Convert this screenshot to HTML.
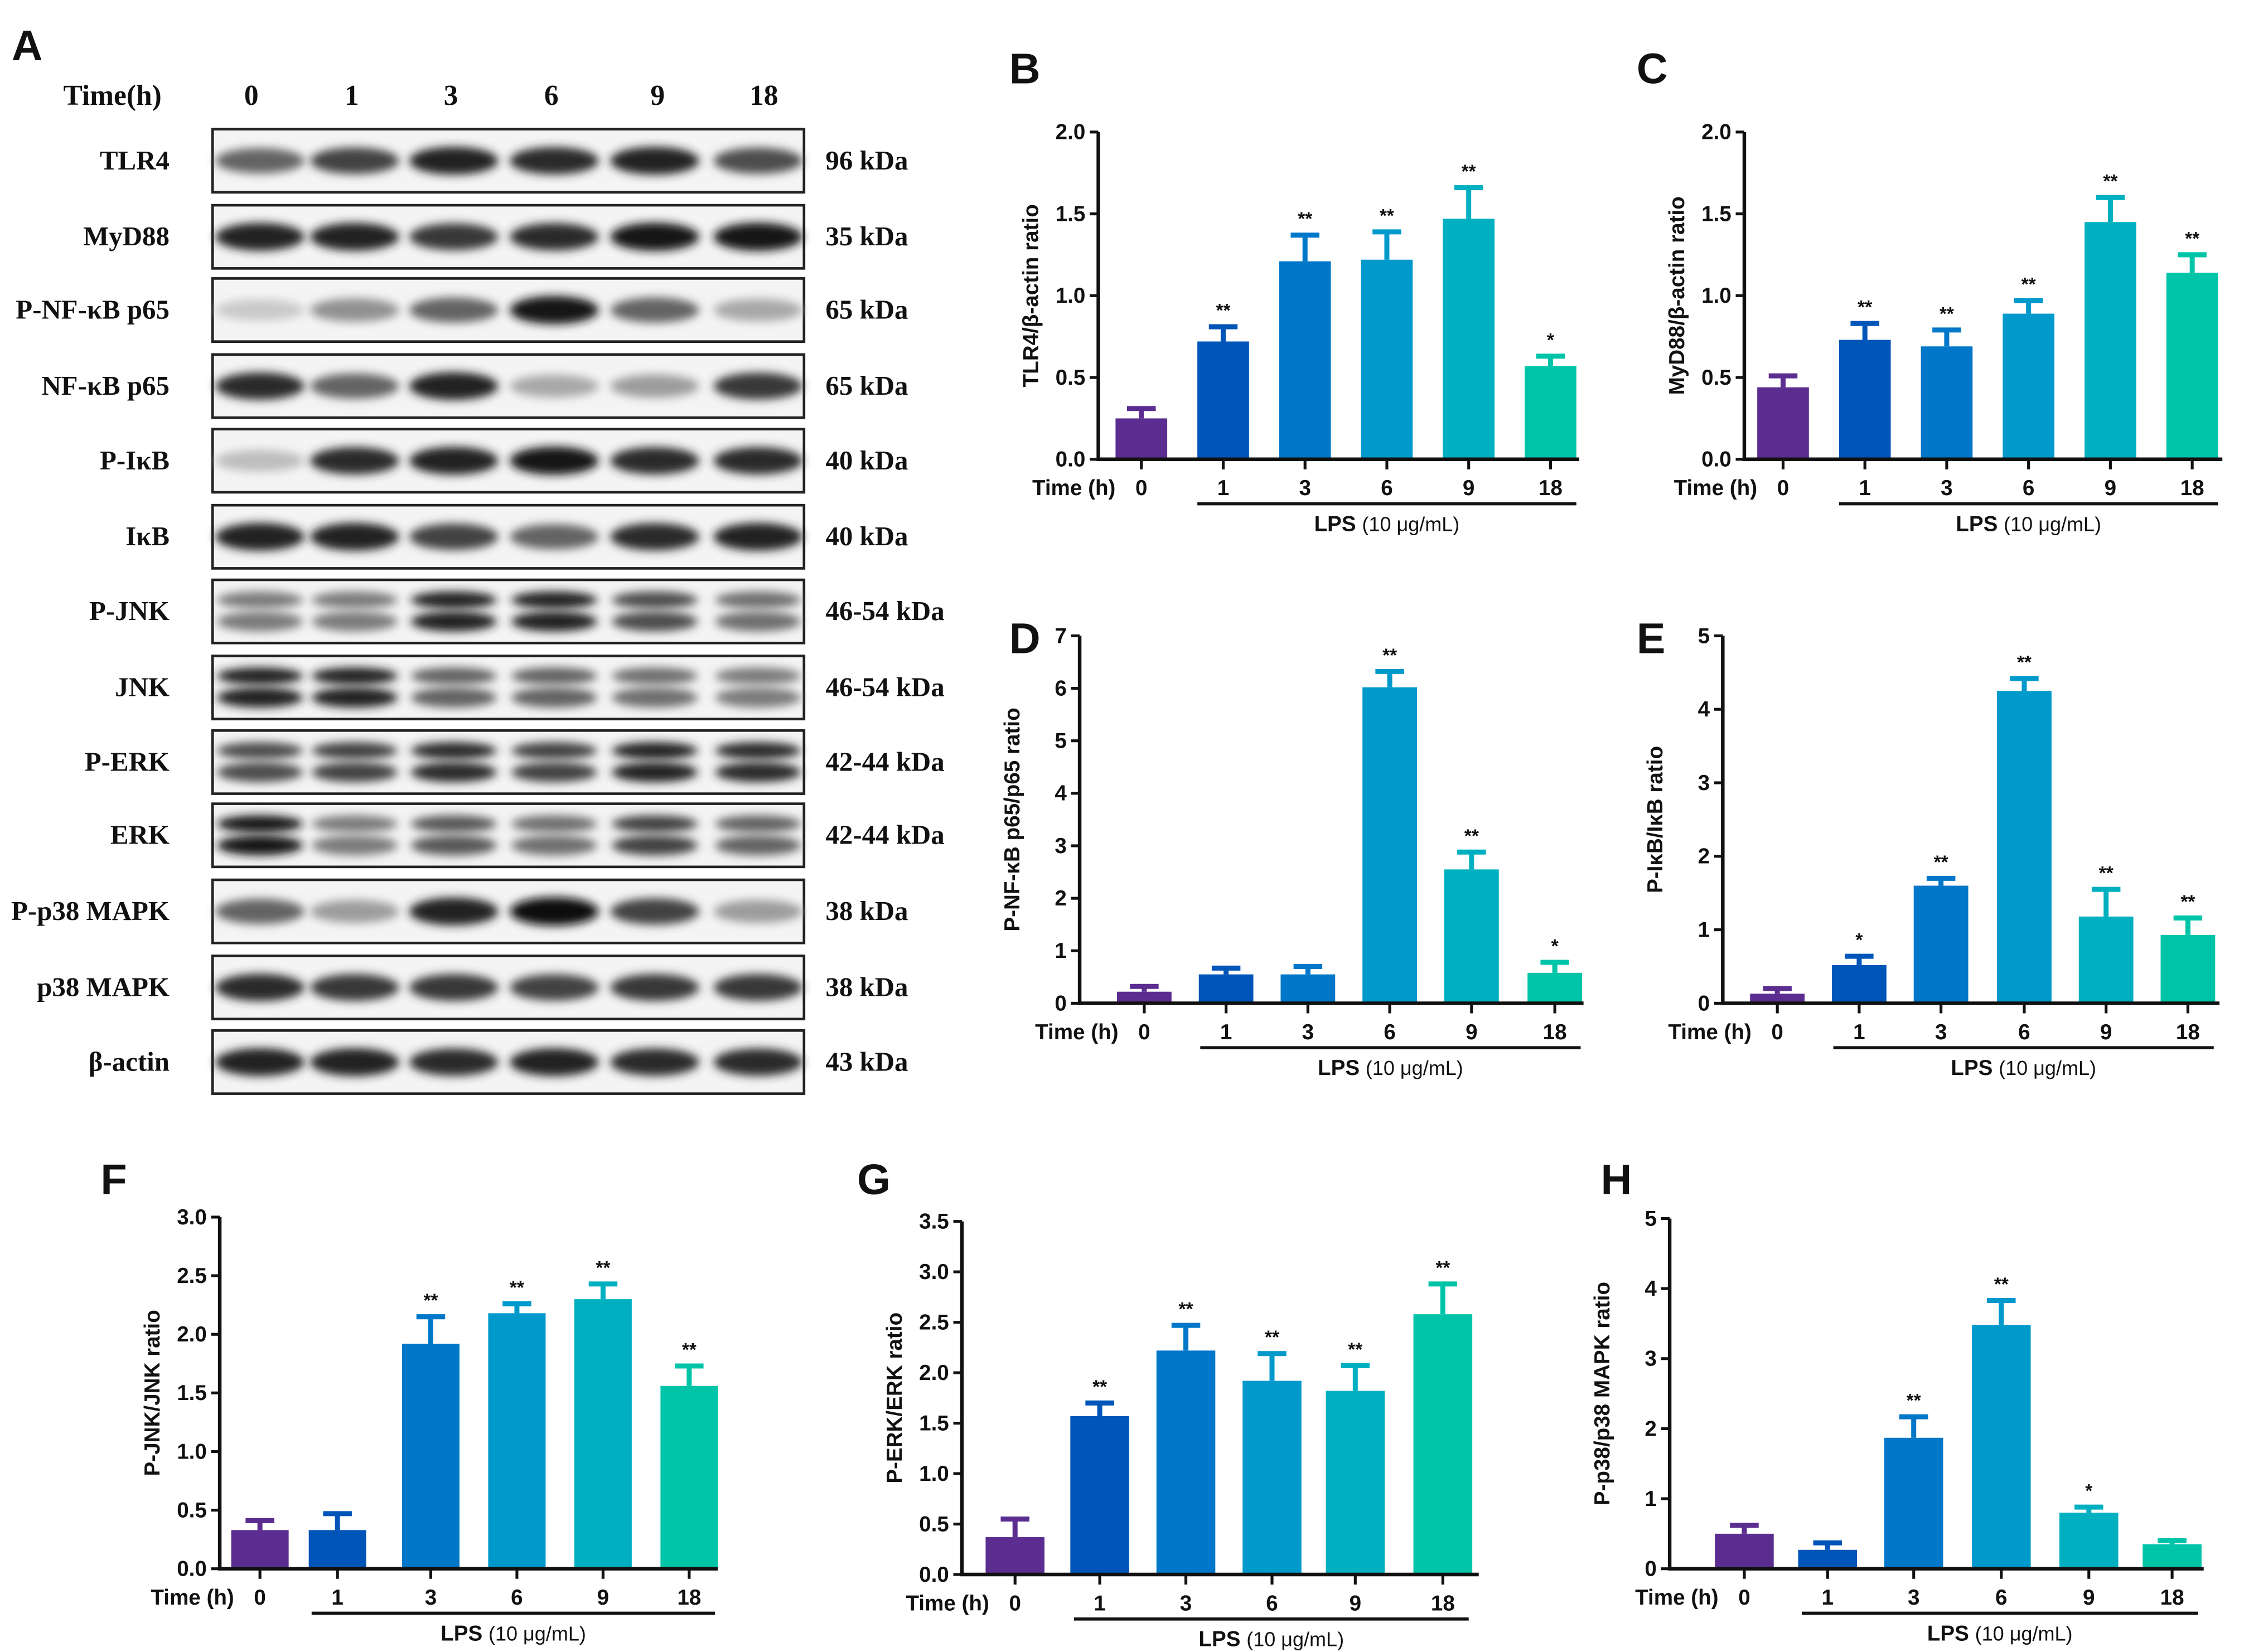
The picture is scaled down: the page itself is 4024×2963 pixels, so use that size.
<!DOCTYPE html>
<html><head><meta charset="utf-8"><style>
html,body{margin:0;padding:0;background:#fff;}
svg{display:block;}
.t{font-family:"Liberation Sans",Arial,sans-serif;font-weight:bold;fill:#111;}
.s{font-family:"Liberation Serif",serif;font-weight:bold;fill:#111;}
</style></head><body>
<svg id="fig" width="4024" height="2963" viewBox="0 0 1563 1151" xmlns="http://www.w3.org/2000/svg">
<defs><filter id="blur" x="-20%" y="-50%" width="140%" height="200%"><feGaussianBlur stdDeviation="3.2"/></filter>
<filter id="blur2" x="-20%" y="-50%" width="140%" height="200%"><feGaussianBlur stdDeviation="6"/></filter></defs>
<g id="blots"></g>
<g id="charts"></g>
</svg>
<script>
const NS="http://www.w3.org/2000/svg";
function mk(tag,attrs,parent,text){const e=document.createElementNS(NS,tag);for(const k in attrs)e.setAttribute(k,attrs[k]);if(text!==undefined)e.textContent=text;parent.appendChild(e);return e;}

// ---------- Blot panel data ----------
const laneLabels=["0","1","3","6","9","18"];
const proteins=["TLR4","MyD88","P-NF-κB p65","NF-κB p65","P-IκB","IκB","P-JNK","JNK","P-ERK","ERK","P-p38 MAPK","p38 MAPK","β-actin"];
const kdas=["96 kDa","35 kDa","65 kDa","65 kDa","40 kDa","40 kDa","46-54 kDa","46-54 kDa","42-44 kDa","42-44 kDa","38 kDa","38 kDa","43 kDa"];
const bandIntensity=[
 [0.6,0.75,0.9,0.85,0.9,0.7],
 [0.9,0.9,0.8,0.85,0.95,0.95],
 [0.15,0.4,0.6,0.95,0.6,0.3],
 [0.85,0.6,0.9,0.3,0.35,0.8],
 [0.2,0.85,0.9,0.95,0.85,0.85],
 [0.9,0.9,0.75,0.6,0.85,0.9],
 [0.5,0.5,0.9,0.9,0.7,0.55],
 [0.9,0.9,0.6,0.6,0.55,0.5],
 [0.7,0.75,0.85,0.75,0.9,0.85],
 [0.95,0.5,0.65,0.55,0.75,0.6],
 [0.6,0.35,0.9,0.98,0.75,0.35],
 [0.85,0.8,0.8,0.75,0.8,0.8],
 [0.9,0.9,0.85,0.9,0.85,0.85]];
const doubleBand=[false,false,false,false,false,false,true,true,true,true,false,false,false];

const bl=document.getElementById('blots');
let e;
e=mk('text',{x:8,y:42,class:'t','font-size':30},bl,"A");

e=mk('text',{x:44,y:73,class:'s','font-size':20},bl,"Time(h)");

const laneX=[181,247,316,386,456,528];
laneLabels.forEach((l,i)=>{e=mk('text',{x:[175,245,314,384,458,532][i],y:73,class:'s','font-size':20,'text-anchor':'middle'},bl,l);
});
const rowTop=[90,143,194,247,299,352,404,457,509,560,613,666,718];
proteins.forEach((p,r)=>{
 const y0=rowTop[r],h=44,cy=y0+h/2;
 const g=mk('g',{},bl);
 mk('rect',{x:148,y:y0,width:412,height:h,fill:'#f4f4f4',stroke:'#222','stroke-width':1.8},g);
 laneX.forEach((x,i)=>{
  const v=bandIntensity[r][i];const gray=Math.round(235-225*v);const col=`rgb(${gray},${gray},${gray})`;
  if(doubleBand[r]){
   const b1=mk('ellipse',{cx:x,cy:cy-8,rx:30,ry:6,fill:col,filter:'url(#blur)'},g);
   const b2=mk('ellipse',{cx:x,cy:cy+7,rx:30,ry:7,fill:col,filter:'url(#blur)'},g);
  } else {
   const b=mk('ellipse',{cx:x,cy:cy,rx:31,ry:7+3*v,fill:col,filter:'url(#blur)'},g);
  }
 });
 e=mk('text',{x:118,y:cy+6,class:'s','font-size':19,'text-anchor':'end'},g,p);
 
 e=mk('text',{x:575,y:cy+6,class:'s','font-size':19},g,kdas[r]);
 
});

// ---------- Chart data ----------
const timeCats=["0","1","3","6","9","18"];
const colors=["#5b2d90","#0055b8","#0077c8","#0099cc","#00b0c0","#00c4a8"];
const bVals=[0.25,0.72,1.21,1.22,1.47,0.57], bErr=[0.06,0.09,0.16,0.17,0.19,0.06], bSig=["","**","**","**","**","*"];
const cVals=[0.44,0.73,0.69,0.89,1.45,1.14], cErr=[0.07,0.1,0.1,0.08,0.15,0.11], cSig=["","**","**","**","**","**"];
const dVals=[0.22,0.55,0.55,6.02,2.55,0.58], dErr=[0.1,0.12,0.15,0.3,0.33,0.2], dSig=["","","","**","**","*"];
const eVals=[0.13,0.52,1.6,4.25,1.18,0.93], eErr=[0.07,0.12,0.1,0.17,0.37,0.23], eSig=["","*","**","**","**","**"];
const fVals=[0.33,0.33,1.92,2.18,2.3,1.56], fErr=[0.08,0.14,0.23,0.08,0.13,0.17], fSig=["","","**","**","**","**"];
const gVals=[0.37,1.57,2.22,1.92,1.82,2.58], gErr=[0.18,0.13,0.25,0.27,0.25,0.3], gSig=["","**","**","**","**","**"];
const hVals=[0.5,0.27,1.87,3.48,0.8,0.35], hErr=[0.12,0.1,0.3,0.35,0.08,0.05], hSig=["","","**","**","*",""];
const ticks20=["0.0","0.5","1.0","1.5","2.0"];
const ticks7=["0","1","2","3","4","5","6","7"];
const ticks5=["0","1","2","3","4","5"];
const ticks30=["0.0","0.5","1.0","1.5","2.0","2.5","3.0"];
const ticks35=["0.0","0.5","1.0","1.5","2.0","2.5","3.0","3.5"];

const panels=[
 {id:'b',letter:'B',lx:703,ly:58,ax:765,top:92,bot:320,right:1100,max:2,ticks:ticks20,vals:bVals,err:bErr,sig:bSig,xs:[795,852,909,966,1023,1080],bw:36,ylab:"TLR4/β-actin ratio"},
 {id:'c',letter:'C',lx:1140,ly:58,ax:1215,top:92,bot:320,right:1548,max:2,ticks:ticks20,vals:cVals,err:cErr,sig:cSig,xs:[1242,1299,1356,1413,1470,1527],bw:36,ylab:"MyD88/β-actin ratio"},
 {id:'d',letter:'D',lx:703,ly:455,ax:752,top:443,bot:699,right:1103,max:7,ticks:ticks7,vals:dVals,err:dErr,sig:dSig,xs:[797,854,911,968,1025,1083],bw:38,ylab:"P-NF-κB p65/p65 ratio"},
 {id:'e',letter:'E',lx:1140,ly:455,ax:1200,top:443,bot:699,right:1546,max:5,ticks:ticks5,vals:eVals,err:eErr,sig:eSig,xs:[1238,1295,1352,1410,1467,1524],bw:38,ylab:"P-IκB/IκB ratio"},
 {id:'f',letter:'F',lx:70,ly:832,ax:153,top:848,bot:1093,right:500,max:3,ticks:ticks30,vals:fVals,err:fErr,sig:fSig,xs:[181,235,300,360,420,480],bw:40,ylab:"P-JNK/JNK ratio"},
 {id:'g',letter:'G',lx:597,ly:832,ax:670,top:851,bot:1097,right:1030,max:3.5,ticks:ticks35,vals:gVals,err:gErr,sig:gSig,xs:[707,766,826,886,944,1005],bw:41,ylab:"P-ERK/ERK ratio"},
 {id:'h',letter:'H',lx:1115,ly:832,ax:1163,top:849,bot:1093,right:1535,max:5,ticks:ticks5,vals:hVals,err:hErr,sig:hSig,xs:[1215,1273,1333,1394,1455,1513],bw:41,ylab:"P-p38/p38 MAPK ratio"}
];
const ch=document.getElementById('charts');
panels.forEach(P=>{
 const g=mk('g',{},ch);
 const Y=v=>P.bot-(v/P.max)*(P.bot-P.top);
 e=mk('text',{x:P.lx,y:P.ly,class:'t','font-size':30},g,P.letter);
 
 // bars
 P.vals.forEach((v,i)=>{
  const x=P.xs[i],c=colors[i],top=Y(v),et=Y(v+P.err[i]);
  e=mk('rect',{x:x-P.bw/2,y:top,width:P.bw,height:P.bot-top,fill:c},g);
  
  e=mk('path',{d:`M${x} ${top}V${et}M${x-10} ${et}H${x+10}`,stroke:c,'stroke-width':3.5,fill:'none'},g);
  
  if(P.sig[i]){e=mk('text',{x:x,y:et-7,class:'t','font-size':13,'text-anchor':'middle'},g,P.sig[i]);
   }
 });
 // axes
 e=mk('path',{d:`M${P.ax} ${P.top}V${P.bot}H${P.right}`,stroke:'#111','stroke-width':2.5,fill:'none'},g);
 
 P.ticks.forEach((t,i)=>{const y=Y(parseFloat(t));
  mk('line',{x1:P.ax-6,x2:P.ax,y1:y,y2:y,stroke:'#111','stroke-width':2},g);
  e=mk('text',{x:P.ax-9,y:y+5,class:'t','font-size':15,'text-anchor':'end'},g,t);
  });
 P.xs.forEach((x,i)=>{mk('line',{x1:x,x2:x,y1:P.bot,y2:P.bot+7,stroke:'#111','stroke-width':2},g);
  e=mk('text',{x:x,y:P.bot+25,class:'t','font-size':15,'text-anchor':'middle'},g,timeCats[i]);
  });
 e=mk('text',{x:P.xs[0]-18,y:P.bot+25,class:'t','font-size':15,'text-anchor':'end'},g,"Time (h)");
 
 e=mk('line',{x1:P.xs[1]-18,x2:P.xs[5]+18,y1:P.bot+31,y2:P.bot+31,stroke:'#111','stroke-width':2.2},g);
 
 e=mk('text',{x:(P.xs[1]+P.xs[5])/2,y:P.bot+50,class:'t','font-size':15,'text-anchor':'middle'},g);
 
 mk('tspan',{},e,"LPS ");mk('tspan',{'font-weight':'normal','font-size':14},e,"(10 μg/mL)");
 const midY=(P.top+P.bot)/2;
 e=mk('text',{x:P.ax-42,y:midY,class:'t','font-size':15,'text-anchor':'middle',transform:`rotate(-90 ${P.ax-42} ${midY})`},g,P.ylab);
 
});
</script>
</body></html>
